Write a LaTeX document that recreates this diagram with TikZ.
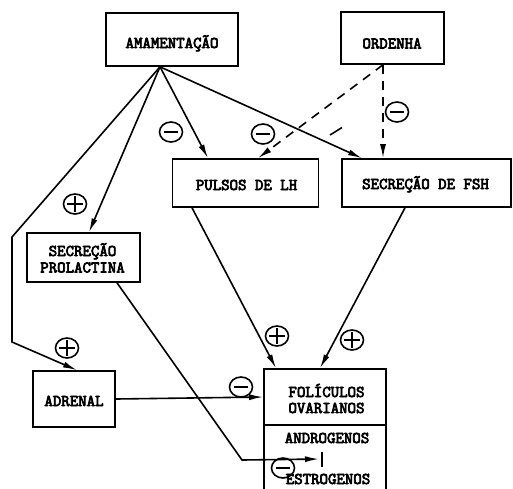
\documentclass[tikz,border=0pt]{standalone}
\usepackage{fontspec}
\newfontfamily\tyfont{Latin Modern Mono}
\usetikzlibrary{shapes.geometric,arrows.meta,calc}
\newcommand{\heavy}[1]{\special{pdf:literal direct 2 Tr 0.7 w}#1\special{pdf:literal direct 0 Tr}}
\newcommand{\boxfont}{\fontsize{16.4}{13}\selectfont\tyfont}
\begin{document}
\begin{tikzpicture}[x=1pt,y=-1pt,
  box/.style={draw, line width=1.6pt, inner sep=0pt},
  txt/.style={anchor=base, inner sep=0pt, font=\boxfont},
  arr/.style={line width=1.6pt, -{Latex[length=14pt,width=6pt]}},
  dsh/.style={arr, dash pattern=on 9pt off 7pt},
  sgn/.style={ellipse, draw, line width=1.6pt, minimum width=23pt, minimum height=20pt, inner sep=0pt},
  minus/.style={sgn, path picture={\draw[line width=2pt] ($(path picture bounding box.center)+(-7,0)$) -- ++(14,0);}},
  plus/.style={sgn, path picture={\draw[line width=2pt] ($(path picture bounding box.center)+(-8,0)$) -- ++(16,0);
      \draw[line width=2pt] ($(path picture bounding box.center)+(0,-8)$) -- ++(0,16);}}]
\useasboundingbox (0,0) rectangle (513,488);
\fill[white] (0,0) rectangle (513,488);

% boxes
\node[box, minimum width=132pt, minimum height=53pt] (amam) at (172,39.5) {};
\node[box, minimum width=103pt, minimum height=52pt] (ord) at (392.5,38) {};
\node[box, minimum width=146pt, minimum height=48pt] (puls) at (245.5,183) {};
\node[box, minimum width=169pt, minimum height=48pt] (fsh) at (426.5,183) {};
\node[box, minimum width=113pt, minimum height=49pt] (prol) at (83.5,257.5) {};
\node[box, minimum width=82pt, minimum height=56pt] (adr) at (74,399) {};
\node[box, minimum width=122pt, minimum height=56pt] (fol) at (325,397) {};
\node[box, minimum width=122pt, minimum height=70pt] (horm) at (325,460) {};

% texts
\node[txt] (tamam) at (172,48) {\heavy{AMAMENTAÇÃO}};
\node[txt] (tord) at (392,48.5) {\heavy{ORDENHA}};
\node[txt] (tpuls) at (246.5,190) {\heavy{PULSOS DE LH}};
\node[txt] (tfsh) at (425.5,189) {\heavy{SECREÇÃO DE FSH}};
\node[txt] (tprol1) at (82.5,256) {\heavy{SECREÇÃO}};
\node[txt] (tprol2) at (82.5,272.5) {\heavy{PROLACTINA}};
\node[txt] (tadr) at (74,406) {\heavy{ADRENAL}};
\node[txt] (tfol1) at (326.5,397) {\heavy{FOLÍCULOS}};
\node[txt] (tfol2) at (326.5,413) {\heavy{OVARIANOS}};
\node[txt] (tandr) at (327,443) {\heavy{ANDROGENOS}};
\node[txt] (testr) at (328,484) {\heavy{ESTROGENOS}};

% connectors
\coordinate (aout) at ([xshift=-12pt]amam.south);
\coordinate (oout) at ([xshift=-9.5pt]ord.south);
\draw[arr] (aout) -- ([xshift=-37.5pt]puls.north);
\draw[arr] (aout) -- ([xshift=-64.5pt]fsh.north);
\draw[arr] (aout) -- ([xshift=5.5pt]prol.north);
\coordinate (c1) at (12,237);
\coordinate (c2) at (12,342);
\draw[arr] (aout) -- (c1) -- (c2) -- ([xshift=3pt]adr.north);
\draw[dsh] (oout) -- ([xshift=-43.5pt]fsh.north);
\draw[dsh] (oout) -- ([xshift=12.5pt]puls.north);
\coordinate (s1) at (330,135);
\coordinate (s2) at (342,127.5);
\draw[line width=1.6pt] (s1) -- (s2);
\draw[arr] ([xshift=-53.5pt]puls.south) -- ([xshift=-49pt]fol.north);
\draw[arr] ([xshift=-21.5pt]fsh.south) -- ([xshift=-5pt]fol.north);
\draw[arr] (adr.east) -- (fol.west);
\coordinate (b1) at (242,460);
\coordinate (tip) at (319,459);
\coordinate (bar) at (322,459);
\draw[arr] ([xshift=33.5pt]prol.south) -- (b1) -- (tip);
\draw[line width=1.6pt] ([yshift=-8pt]bar) -- ([yshift=7pt]bar);

% signs
\node[minus] (m1) at (171,132) {};
\node[minus] (m2) at (263,134) {};
\node[minus] (m3) at (397,112) {};
\node[plus] (p1) at (75,204) {};
\node[plus] (p2) at (67,348) {};
\node[minus] (m4) at (241,387) {};
\node[plus] (p3) at (277,336) {};
\node[plus] (p4) at (352,340) {};
\node[minus] (m5) at (283,468) {};
\end{tikzpicture}
\end{document}
